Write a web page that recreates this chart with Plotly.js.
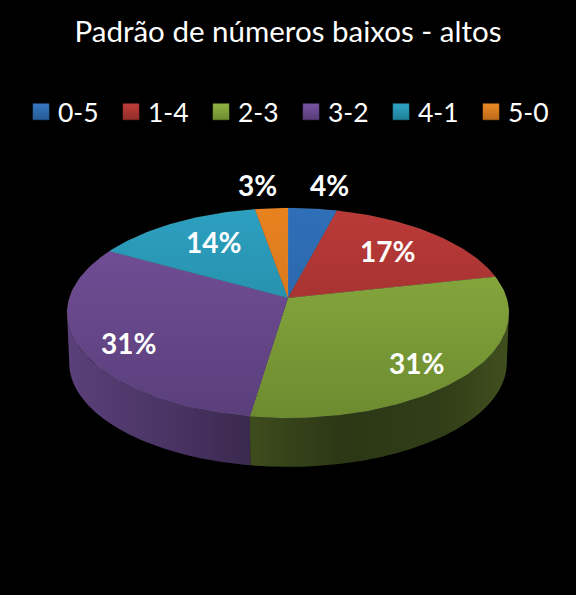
<!DOCTYPE html>
<html><head><meta charset="utf-8">
<script src="https://cdn.plot.ly/plotly-3.0.1.min.js"></script>
<style>html,body{margin:0;padding:0;background:#000}</style></head>
<body><div id="chart" style="width:576px;height:595px"></div>
<script>
const categories = ['0-5','1-4','2-3','3-2','4-1','5-0'];
const values = [4.1,17.49,30.8,30.7,14.15,2.76];
const labels = [4,17,31,31,14,3];
const topFrom = ['#2f6fb8','#bb3a38','#8fb141','#75509a','#2da0c0','#e8821f'];
const topTo   = ['#28609f','#8e2b2a','#6c8b30','#5a3f7b','#1f8098','#c56f1c'];
const legendColor = ['#3a78c2','#c23f3c','#92b544','#7a55a2','#31a5c6','#ec8a26'];
const legendShade = ['#255a96','#8f2c2a','#6c8b30','#573c77','#1f7f98','#bd6a1a'];
const sideScale = [
 [[0,'#1d3f68'],[1,'#1d3f68']],
 [[0,'#5c1d1c'],[1,'#5c1d1c']],
 [[0,'#3e4c1d'],[0.35,'#2c3715'],[0.75,'#313e17'],[1,'#414f1f']],
 [[0,'#5b4079'],[0.5,'#4b3566'],[1,'#3a294f']],
 [[0,'#145565'],[1,'#145565']],
 [[0,'#7d4812'],[1,'#7d4812']]
];
const labelPos = [[329,185],[387,251],[416,363],[128,343],[213,242],[257,185]];

const cx=288, cy=298, A=218.7, B=102.86, K=1/7, DEPTH=50, BOTTOM=0.99;
function rim(t,scale,dy){
  const x=Math.sin(t), y=Math.cos(t), w=1+K*y;
  return [cx+scale*A*x/w, cy+dy-scale*B*y/w];
}
const TAN=Math.acos(-K), TAN2=2*Math.PI-TAN;   // where the wall silhouette touches the rim
const total=values.reduce((a,b)=>a+b,0);
const sides=[], tops=[], keys=[];
let acc=0;
function arc(a,b,scale,dy){
  const n=Math.max(8,Math.ceil((b-a)*40)), out=[];
  for(let k=0;k<=n;k++) out.push(rim(a+(b-a)*k/n,scale,dy));
  return out;
}
values.forEach((v,i)=>{
  const t0=acc/total*2*Math.PI; acc+=v; const t1=acc/total*2*Math.PI;
  const a=Math.max(t0,TAN), b=Math.min(t1,TAN2);
  if(b>a){
    const up=arc(a,b,1,0), low=arc(a,b,BOTTOM,DEPTH);
    const sp=up.concat(low.slice().reverse(),[up[0]]);
    const xs=sp.map(p=>p[0]);
    sides.push({type:'scatter',mode:'none',x:xs,y:sp.map(p=>p[1]),
      fill:'toself',showlegend:false,hoverinfo:'skip',
      fillgradient:{type:'horizontal',colorscale:sideScale[i],start:Math.min(...xs),stop:Math.max(...xs)}});
  }
  const tp=[[cx,cy]].concat(arc(t0,t1,1,0),[[cx,cy]]);
  tops.push({type:'scatter',mode:'lines',x:tp.map(p=>p[0]),y:tp.map(p=>p[1]),
    line:{color:'rgba(255,255,255,0.10)',width:0.6},
    fill:'toself',showlegend:false,hoverinfo:'skip',
    fillgradient:{type:'vertical',colorscale:[[0,topFrom[i]],[1,topTo[i]]],start:208,stop:418}});
  keys.push({type:'scatter',mode:'markers',x:[null],y:[null],name:categories[i],
    marker:{symbol:'square',size:16,color:legendColor[i],line:{color:legendShade[i],width:0.6},
      gradient:{type:'vertical',color:legendShade[i]}}});
});

const layout={
  width:576,height:595,paper_bgcolor:'#000',plot_bgcolor:'#000',
  margin:{l:0,r:0,t:0,b:0},showlegend:true,
  xaxis:{range:[0,576],visible:false,fixedrange:true},
  yaxis:{range:[595,0],visible:false,fixedrange:true},
  title:{text:'Padrão de números baixos - altos',font:{family:'Lato',size:29.5,color:'#fff'},
    x:0.5,xanchor:'center',y:0.947,yanchor:'middle'},
  legend:{orientation:'h',x:18/576,xref:'paper',xanchor:'left',y:1-88/595,yanchor:'top',
    font:{family:'Lato',size:26.5,color:'#fff'},bgcolor:'rgba(0,0,0,0)',
    entrywidthmode:'pixels',entrywidth:45,traceorder:'normal',tracegroupgap:0},
  annotations:labels.map((v,i)=>({xref:'x',yref:'y',x:labelPos[i][0],y:labelPos[i][1],text:'<b>'+v+'%</b>',
    showarrow:false,font:{family:'Lato',size:28,color:'#fff'},xanchor:'center',yanchor:'middle'}))
};
Plotly.newPlot('chart',sides.concat(tops,keys),layout,{displayModeBar:false,staticPlot:true}).then(()=>{
  document.querySelectorAll('.legend .legendsymbols').forEach(g=>g.setAttribute('transform','translate(3,0)'));
});
</script></body></html>
